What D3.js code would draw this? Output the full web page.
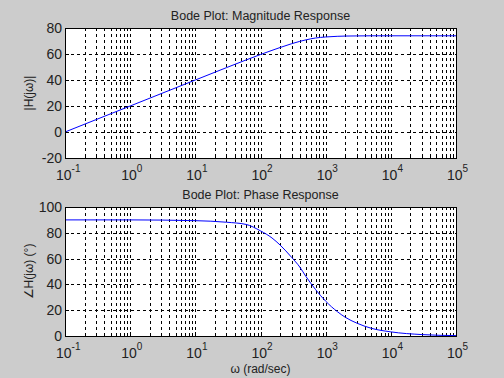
<!DOCTYPE html>
<html><head><meta charset="utf-8">
<script src="https://cdn.jsdelivr.net/npm/d3@7"></script>
<style>
html,body{margin:0;padding:0;background:#cccccc;}
svg{display:block;font-family:"Liberation Sans",Arial,sans-serif;}
</style></head>
<body>
<svg id="c" width="504" height="378"></svg>
<script>
// Data
const omega      = [0.1, 1, 10, 30, 60, 100, 150, 200, 300, 400, 500, 700, 1000, 1500, 2000, 3000, 5000, 10000, 30000, 100000];
const magnitude  = [0, 20, 40, 49.5, 55.4, 59.6, 62.8, 65.0, 67.9, 69.7, 70.9, 72.3, 73.1, 73.6, 73.8, 73.9, 74, 74, 74, 74];
const phase      = [90, 90, 89.4, 88.2, 86.5, 81.5, 76, 70.5, 61, 53.5, 46, 36, 27, 19, 14.5, 10, 6, 3.2, 1.1, 0.3];
const xTickExp   = [-1, 0, 1, 2, 3, 4, 5];
const magTicks   = [-20, 0, 20, 40, 60, 80];
const phaseTicks = [0, 20, 40, 60, 80, 100];

const svg = d3.select("#c");
const L = 65, R = 456;

function panel(top, bottom, yDomain, yTicks, values, title, ylabel, xlabel) {
  const x = d3.scaleLog().domain([0.1, 1e5]).range([L, R]);
  const y = d3.scaleLinear().domain(yDomain).range([bottom, top]);
  const g = svg.append("g");
  g.append("rect").attr("x", L).attr("y", top).attr("width", R - L).attr("height", bottom - top).attr("fill", "#fff");
  const minor = [];
  for (let e = -1; e < 5; e++) for (let m = 1; m <= 9; m++) minor.push(m * Math.pow(10, e));
  const inner = minor.filter(v => v > 0.1 && v < 1e5);
  g.selectAll(".gx").data(inner).enter().append("line")
    .attr("x1", d => Math.round(x(d)) + 0.5).attr("x2", d => Math.round(x(d)) + 0.5)
    .attr("y1", top).attr("y2", bottom)
    .attr("stroke", "#000").attr("stroke-width", 1).attr("stroke-dasharray", "3,3");
  g.selectAll(".gy").data(yTicks.slice(1, -1)).enter().append("line")
    .attr("y1", d => Math.round(y(d)) + 0.5).attr("y2", d => Math.round(y(d)) + 0.5)
    .attr("x1", L).attr("x2", R)
    .attr("stroke", "#000").attr("stroke-width", 1).attr("stroke-dasharray", "3,3");
  // inward ticks
  g.selectAll(".tx").data(inner).enter().append("line")
    .attr("x1", d => Math.round(x(d)) + 0.5).attr("x2", d => Math.round(x(d)) + 0.5)
    .attr("y1", bottom).attr("y2", d => bottom - (xTickExp.some(e => Math.abs(Math.log10(d) - e) < 1e-9) ? 4 : 2))
    .attr("stroke", "#000");
  g.selectAll(".ty").data(yTicks.slice(1, -1)).enter().append("line")
    .attr("y1", d => Math.round(y(d)) + 0.5).attr("y2", d => Math.round(y(d)) + 0.5)
    .attr("x1", L).attr("x2", L + 4).attr("stroke", "#000");
  // curve
  const line = d3.line().x((d, i) => x(omega[i])).y(d => y(d)).curve(d3.curveMonotoneX);
  g.append("path").datum(values).attr("d", line).attr("fill", "none").attr("stroke", "#0000ff").attr("stroke-width", 1);
  // frame
  g.append("rect").attr("x", L + 0.5).attr("y", Math.round(top) + 0.5).attr("width", R - L).attr("height", Math.round(bottom - top))
    .attr("fill", "none").attr("stroke", "#000");
  // y tick labels
  g.selectAll(".yl").data(yTicks).enter().append("text")
    .attr("x", L - 3).attr("y", d => y(d) + 5).attr("text-anchor", "end")
    .attr("font-size", 14).attr("fill", "#222").text(d => d);
  // x tick labels
  const xl = g.selectAll(".xl").data(xTickExp).enter().append("text")
    .attr("x", d => x(Math.pow(10, d)) - 9).attr("y", bottom + 22)
    .attr("font-size", 14).attr("fill", "#222");
  xl.append("tspan").text("10");
  xl.append("tspan").attr("dy", -8).attr("font-size", 10).text(d => d);
  // title
  svg.append("text").attr("x", (L + R) / 2).attr("y", top - 8).attr("text-anchor", "middle")
    .attr("font-size", 12.5).attr("fill", "#222").text(title);
  // y label
  svg.append("text").attr("transform", `translate(33,${(top + bottom) / 2}) rotate(-90)`)
    .attr("text-anchor", "middle").attr("font-size", 12).attr("fill", "#222").text(ylabel);
  if (xlabel) svg.append("text").attr("x", (L + R) / 2).attr("y", bottom + 37).attr("text-anchor", "middle")
    .attr("font-size", 12).attr("fill", "#222").text(xlabel);
}

panel(28, 158, [-20, 80], magTicks, magnitude, "Bode Plot: Magnitude Response", "|H(jω)|", null);
panel(207, 336, [0, 100], phaseTicks, phase, "Bode Plot: Phase Response", "∠H(jω) (°)", "ω (rad/sec)");
</script>
</body></html>
